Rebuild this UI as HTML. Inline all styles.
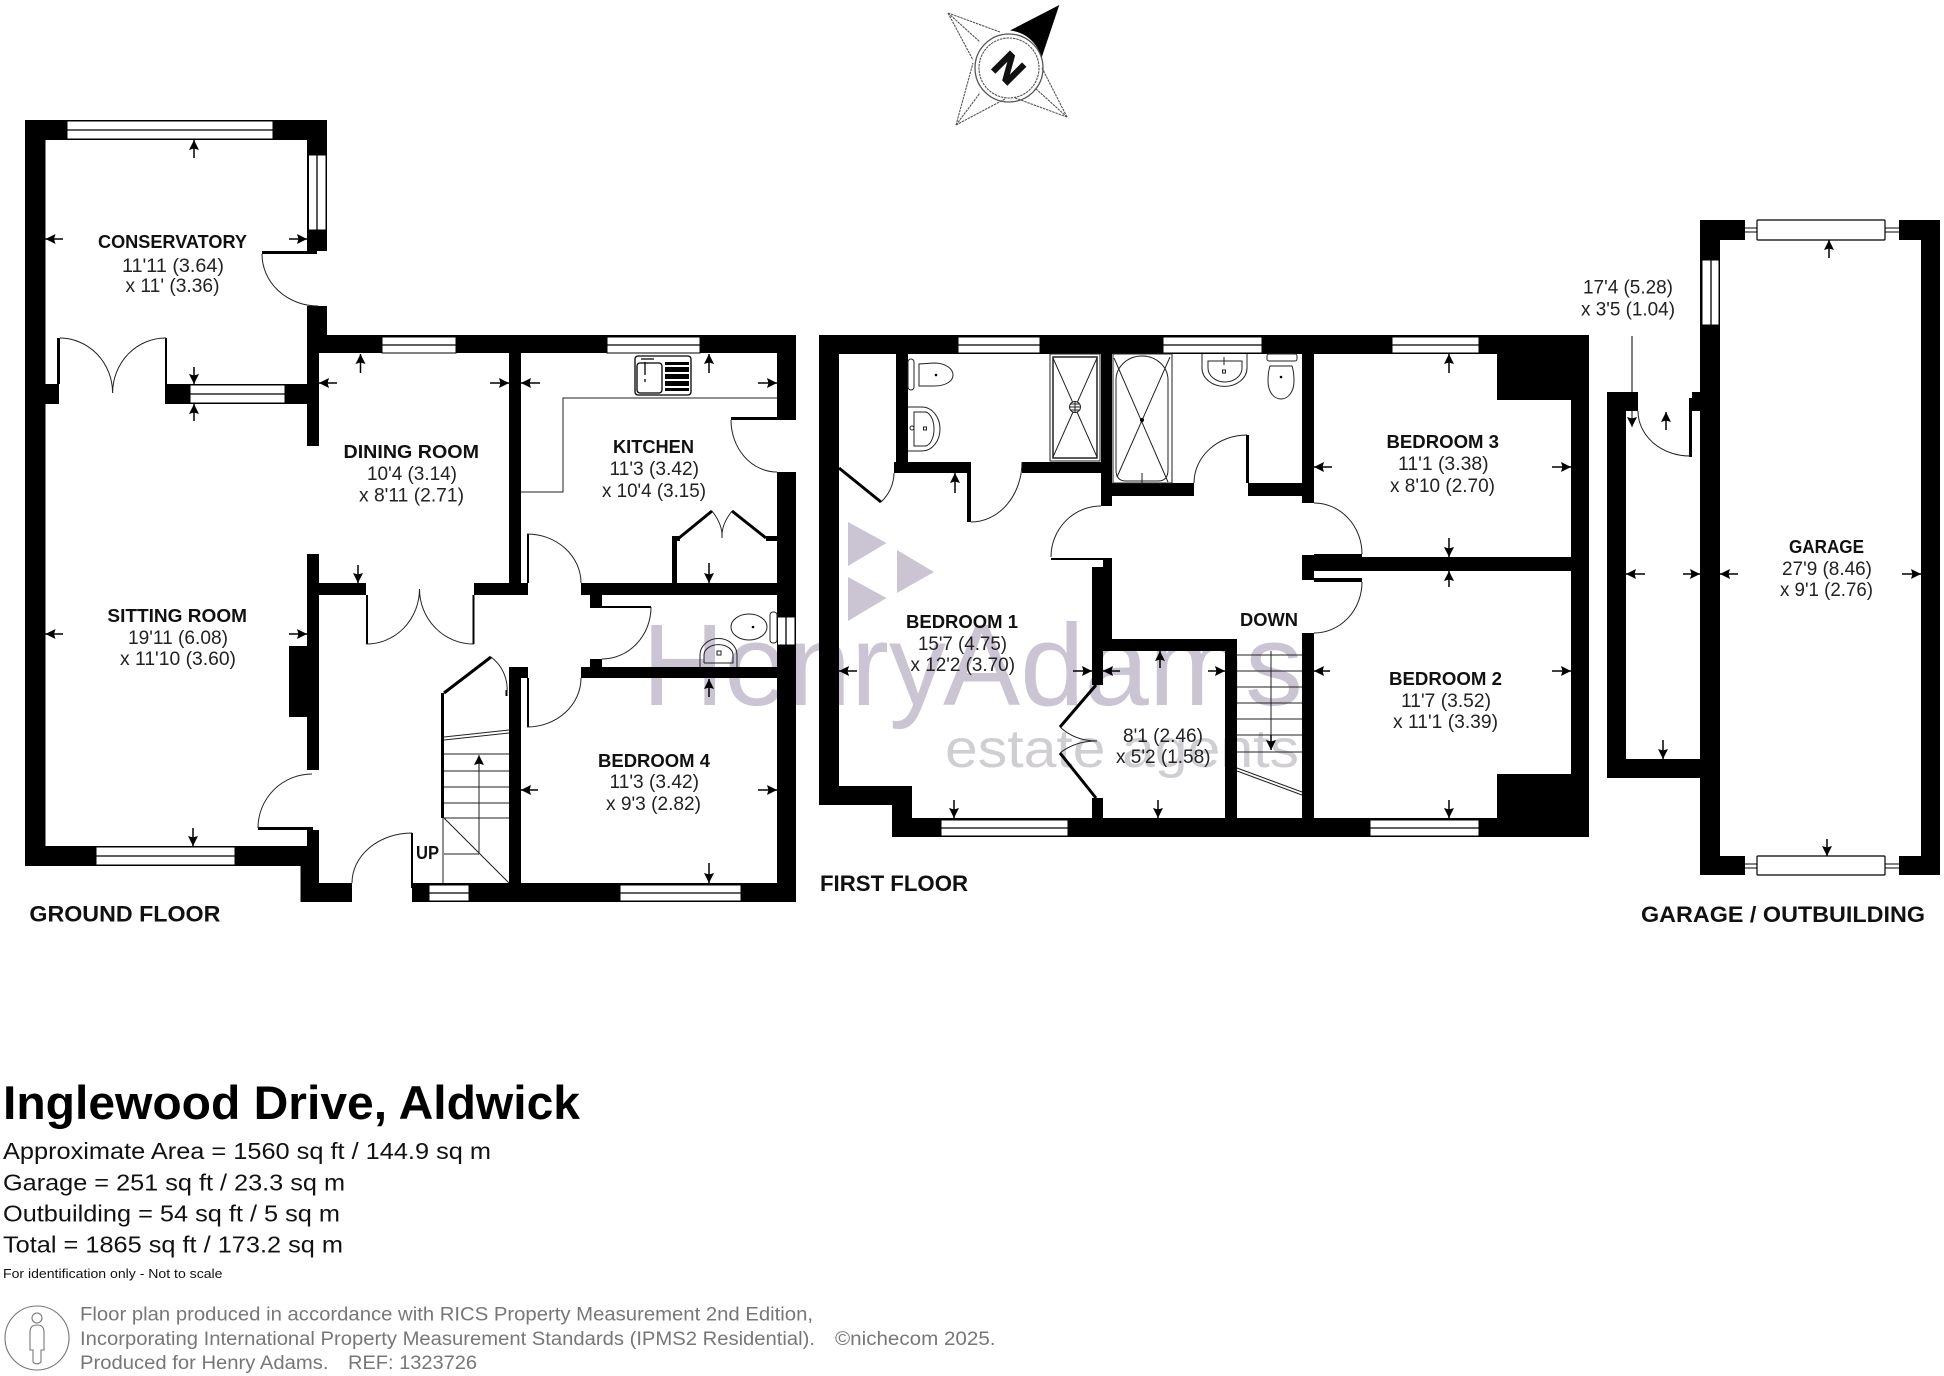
<!DOCTYPE html>
<html><head><meta charset="utf-8"><title>Inglewood Drive, Aldwick floor plan</title>
<style>
html,body{margin:0;padding:0;background:#fff}
svg{display:block}
text{font-family:"Liberation Sans",sans-serif;fill:#222;font-size:19px}
.b{font-weight:bold;font-size:18.5px;fill:#111}
.h{font-weight:bold;font-size:22px;fill:#111}
.t{font-size:23px;fill:#111}
.g{font-size:19px;fill:#777}
.w rect{fill:#fff;stroke:#000;stroke-width:1}
.w path{stroke:#000;stroke-width:1.3;fill:none}
.d{fill:none;stroke:#222;stroke-width:1}
.f{fill:none;stroke:#222;stroke-width:1}
.ar{fill:none;stroke:#000;stroke-width:1.500;marker-end:url(#a)}
.c{fill:none;stroke:#555;stroke-width:1.1;stroke-dasharray:2.5 .8}
</style></head><body>
<svg xmlns="http://www.w3.org/2000/svg" width="1944" height="1376" viewBox="0 0 1944 1376">
<defs><marker id="a" markerUnits="userSpaceOnUse" markerWidth="12" markerHeight="12" refX="10" refY="5.500" orient="auto"><path d="M0 .5L10 5.500L0 10.500L1.500 5.500Z" fill="#000"/></marker></defs>
<rect width="1944" height="1376" fill="#fff"/>

<!-- watermark -->
<g fill="#cbc4d3">
<path d="M848 522L886.5 543L848 566Z"/><path d="M897 550L934 572L897 593Z"/><path d="M848 577L886.5 598L848 621Z"/>
</g>
<text x="642" y="705" textLength="304" lengthAdjust="spacingAndGlyphs" style="font-size:116px;fill:#cbc4d3">Henry</text>
<text x="943" y="705" textLength="360" lengthAdjust="spacingAndGlyphs" style="font-size:116px;fill:#cbc4d3">Adams</text>
<text x="945" y="767" textLength="354" lengthAdjust="spacingAndGlyphs" style="font-size:54px;fill:#d0ced3">estate agents</text>

<!-- compass -->
<g>
<path d="M1059.3 5L1010 30.500A36 36 0 0 1 1041.500 58Z" fill="#000"/>
<path class="c" d="M948 13L1000 32M948 13L973 60M948 13L980 42M956 125L973 63M956 125L1005 99M956 125L980 93M1067 117L1042 68M1067 117L1015 98M1067 117L1035 88"/>
<circle cx="1009" cy="68" r="34" fill="none" stroke="#555" stroke-width="1.3"/>
<circle cx="1009" cy="68" r="30" fill="none" stroke="#555" stroke-width="1.1" stroke-dasharray="2.5 .8"/>
<text transform="translate(1009 68) rotate(45)" x="-13.500" y="13" style="font-size:37px;font-weight:bold;fill:#111;stroke:#111;stroke-width:1.500">N</text>
</g>

<!-- GROUND FLOOR walls -->
<g fill="#000">
<rect x="25" y="120" width="302" height="20"/>
<rect x="25" y="120" width="20.500" height="746"/>
<rect x="307" y="140" width="20" height="111"/>
<rect x="262" y="251" width="55" height="3"/>
<rect x="307" y="306" width="20" height="29"/>
<rect x="307" y="335" width="12" height="111"/>
<rect x="307" y="335" width="489" height="18"/>
<rect x="777" y="335" width="19" height="82"/>
<rect x="731" y="417" width="65" height="3"/>
<rect x="777" y="472" width="19" height="430"/>
<rect x="509" y="353" width="12" height="242"/>
<rect x="474" y="583" width="54" height="12"/>
<rect x="319" y="583" width="47" height="12"/>
<rect x="307" y="554" width="12" height="216"/>
<rect x="289" y="646" width="18" height="71"/>
<rect x="366" y="595" width="2" height="49"/>
<rect x="472.500" y="595" width="2" height="49"/>
<rect x="45" y="384" width="14" height="20"/>
<rect x="57" y="338" width="3" height="46"/>
<rect x="165" y="338" width="2" height="46"/>
<rect x="165" y="384" width="154" height="20"/>
<rect x="581" y="583" width="215" height="12"/>
<rect x="590" y="595" width="12" height="12"/>
<rect x="590" y="606" width="61" height="2"/>
<rect x="590" y="659" width="12" height="8"/>
<rect x="581" y="667" width="215" height="11"/>
<rect x="527" y="534" width="2" height="49"/>
<rect x="509" y="667" width="19" height="11"/>
<rect x="509" y="678" width="12" height="205"/>
<rect x="527" y="678" width="2" height="49"/>
<rect x="25" y="846" width="282" height="20"/>
<rect x="300.500" y="846" width="18.500" height="56"/>
<rect x="307" y="830" width="12" height="16"/>
<rect x="258" y="827" width="55" height="3"/>
<rect x="300.500" y="883" width="51.500" height="19"/>
<rect x="412" y="883" width="384" height="19"/>
<rect x="411" y="833" width="2" height="55"/>
<rect x="441" y="693" width="3" height="125"/>
<rect x="505.500" y="690" width="2" height="6"/>
<rect x="672" y="536" width="5" height="48"/>
<rect x="672" y="536" width="8" height="5"/>
<rect x="766" y="536" width="11" height="5"/>
</g>
<path d="M444 693L491 657" stroke="#000" stroke-width="3" fill="none"/>
<path d="M679 538L712 511M732 511L766 538" stroke="#000" stroke-width="3" fill="none"/>

<!-- ground windows -->
<g class="w">
<rect x="67" y="121" width="206" height="18"/><path d="M67 130H273"/>
<rect x="308.500" y="155" width="17.500" height="75"/><path d="M317 155V230"/>
<rect x="190" y="385" width="95" height="18"/><path d="M190 394H285"/>
<rect x="382" y="337" width="74" height="16"/><path d="M382 345H456"/>
<rect x="607" y="337" width="93" height="16"/><path d="M607 345H700"/>
<rect x="96" y="847" width="139" height="18"/><path d="M96 856H235"/>
<rect x="429" y="885" width="40" height="16"/><path d="M429 893H469"/>
<rect x="620" y="885" width="121" height="16"/><path d="M620 893H741"/>
<rect x="777.500" y="617" width="17.500" height="28"/><path d="M786 617V645"/>
</g>

<!-- ground door arcs & lines -->
<g class="d">
<path d="M262 254A56 52 0 0 0 318 306"/>
<path d="M60 338A53 55 0 0 1 112.600 393"/>
<path d="M166 338A53 55 0 0 0 112.600 393"/>
<path d="M731 420A46 52 0 0 0 777 472"/>
<path d="M366 644A53 55 0 0 0 419.500 589"/>
<path d="M474 644A54 55 0 0 1 419.500 589"/>
<path d="M527 534A54 49 0 0 1 581 583"/>
<path d="M651 607A49 52 0 0 1 602 659"/>
<path d="M581 678A54 49 0 0 1 527 727"/>
<path d="M491 657A40 40 0 0 1 507 693"/>
<path d="M258 828A54 54 0 0 1 312 774"/>
<path d="M352 883A60 50 0 0 1 412 833"/>
<path d="M712 511Q723 525 722 538M732 511Q721 525 722 538"/>
<!-- counter -->
<path d="M777 398H563V492H521"/>
<!-- stairs -->
<path d="M444 737L509 730M444 740L509 733"/>
<path d="M444 754H509M444 771H509M444 787H509M444 803H509M444 818H509"/>
<path d="M479 854V760M444 854H479M444 818L509 883M443 818V883"/>
</g>
<path d="M479 770V755" stroke="#000" stroke-width="1" marker-end="url(#a)" fill="none"/>

<!-- sink -->
<g fill="none" stroke="#000" stroke-width="1.3">
<rect x="635" y="356" width="56" height="39" rx="3" fill="#fff"/>
<rect x="637" y="363" width="25" height="30" rx="3"/>
<path d="M645 362V375M641 359H654M645 379V382" />
</g>
<g fill="#000"><rect x="665" y="362" width="24" height="3"/><rect x="665" y="367" width="24" height="5"/><rect x="665" y="374" width="24" height="5"/><rect x="665" y="381" width="24" height="5"/><rect x="665" y="388" width="24" height="3"/></g>

<!-- ground WC -->
<g class="f">
<ellipse cx="749" cy="627" rx="18" ry="13"/>
<rect x="770" y="612" width="7" height="31" rx="3"/>
<path d="M700 667V655A18 16 0 0 1 737 655V667M704 663V655A14 10 0 0 1 733 655V663H704"/>
<rect x="717" y="651" width="4" height="4"/>
</g>
<circle cx="753" cy="627" r="1.300"/>

<!-- FIRST FLOOR walls -->
<g fill="#000">
<rect x="819" y="335" width="770" height="19"/>
<rect x="819" y="335" width="20" height="470"/>
<rect x="819" y="786" width="93" height="19"/>
<rect x="892" y="786" width="20" height="51"/>
<rect x="892" y="818" width="697" height="19"/>
<rect x="1571" y="335" width="18" height="502"/>
<rect x="1497" y="354" width="74" height="46"/>
<rect x="1497" y="774" width="74" height="44"/>
<rect x="896" y="354" width="12" height="119"/>
<rect x="894" y="462" width="75" height="11"/>
<rect x="967" y="462" width="4" height="60"/>
<rect x="1022" y="462" width="90" height="11"/>
<rect x="1101" y="354" width="11" height="152"/>
<rect x="1112" y="483" width="82" height="13"/>
<rect x="1246" y="435" width="3" height="48"/>
<rect x="1248" y="483" width="66" height="13"/>
<rect x="1302" y="354" width="12" height="149"/>
<rect x="1051" y="558" width="61" height="2"/>
<rect x="1103" y="558" width="9" height="12"/>
<rect x="1092" y="567" width="11" height="118"/>
<rect x="1103" y="567" width="9" height="72"/>
<rect x="1092" y="639" width="145" height="12"/>
<rect x="1225" y="639" width="12" height="179"/>
<rect x="1302" y="633" width="12" height="185"/>
<rect x="1302" y="555" width="12" height="25"/>
<rect x="1314" y="554" width="48" height="3"/>
<rect x="1314" y="557" width="257" height="14"/>
<rect x="1314" y="578" width="48" height="4"/>
<rect x="1092" y="798" width="11" height="20"/>
</g>
<path d="M839 468L881 502M1096 685L1060 727M1060 753L1096 798" stroke="#000" stroke-width="3" fill="none"/>
<g class="w">
<rect x="958" y="337" width="82" height="16"/><path d="M958 345H1040"/>
<rect x="1163" y="337" width="99" height="16"/><path d="M1163 345H1262"/>
<rect x="1392" y="337" width="87" height="16"/><path d="M1392 345H1479"/>
<rect x="941" y="820" width="127" height="16"/><path d="M941 828H1068"/>
<rect x="1370" y="820" width="109" height="16"/><path d="M1370 828H1479"/>
</g>
<g class="d">
<path d="M971 522A51 60 0 0 0 1022 462"/>
<path d="M881 502A40 40 0 0 0 894 473"/>
<path d="M1247 435A53 48 0 0 0 1194 483"/>
<path d="M1101 506A50 51 0 0 0 1051 557"/>
<path d="M1314 503A48 51 0 0 1 1362 554"/>
<path d="M1362 582A48 51 0 0 1 1314 633"/>
<path d="M1060 727Q1075 741 1097 741M1060 753Q1075 741 1097 741"/>
<!-- stair -->
<path d="M1237 655H1302M1237 671H1302M1237 687H1302M1237 703H1302M1237 719H1302M1237 735H1302M1237 752H1302"/>
<path d="M1271 651V750"/>
<path d="M1237 768L1302 792M1237 771L1302 795"/>
<!-- shower -->
<rect x="1050" y="354" width="50" height="107"/>
<rect x="1053" y="357" width="44" height="101" stroke-width="1.500"/>
<path d="M1053 358L1097 457M1097 358L1053 457"/>
<circle cx="1075" cy="407" r="5.500" fill="#fff"/>
<path d="M1069 407H1081M1075 401V413M1071 404H1079M1071 410H1079"/>
<!-- bath -->
<rect x="1113" y="354" width="59" height="129"/>
<path d="M1116 380A26 24 0 0 1 1168 380V470Q1168 481 1158 481H1126Q1116 481 1116 470Z"/>
<path d="M1114 358L1168 482M1170 357L1117 477"/>
<path d="M1142 473V483"/>
<!-- en-suite toilet & basin -->
<rect x="908" y="359" width="6" height="31" rx="3"/>
<path d="M919 364V386H934C946 386 953 381 953 375C953 369 946 363 934 363Z"/>
<path d="M908 407H922A18 22 0 0 1 940 429A18 22 0 0 1 922 451H908"/>
<path d="M914 412H926A10 17 0 0 1 934 429A10 17 0 0 1 926 446H914Z"/>
<rect x="923.500" y="427" width="3" height="3"/>
<circle cx="912" cy="428" r="2"/>
<!-- bathroom basin, toilet -->
<path d="M1202 354V368A22 18 0 0 0 1247 368V354"/>
<path d="M1208 361H1242V368A17 14 0 0 1 1208 368Z"/>
<rect x="1222.500" y="370" width="3" height="3"/>
<path d="M1224 357V365"/>
<rect x="1267" y="354" width="30" height="7" rx="2"/>
<path d="M1270 366H1292Q1294 372 1294 381C1294 392 1288 399 1281 399C1274 399 1268 392 1268 381Q1268 372 1270 366Z"/>
</g>
<circle cx="1142" cy="420" r="2"/><circle cx="936" cy="375" r="1.300"/><circle cx="1281" cy="377" r="1.300"/>

<!-- GARAGE / OUTBUILDING -->
<g fill="#000">
<rect x="1700" y="220" width="20" height="655"/>
<rect x="1700" y="220" width="45" height="20"/>
<rect x="1899" y="220" width="41" height="20"/>
<rect x="1921" y="220" width="19" height="655"/>
<rect x="1700" y="856" width="45" height="19"/>
<rect x="1899" y="856" width="41" height="19"/>
<rect x="1607" y="392" width="31" height="19"/>
<rect x="1607" y="392" width="19" height="386"/>
<rect x="1607" y="759" width="95" height="19"/>
<rect x="1692" y="392" width="8" height="19"/>
<rect x="1689" y="398" width="3" height="59"/>
</g>
<g class="w">
<rect x="1702" y="260" width="17" height="65"/><path d="M1711 260V325"/>
</g>
<path d="M1745 228H1899M1745 232H1899M1745 864H1899M1745 868H1899" stroke="#000" stroke-width="1" fill="none"/>
<rect x="1757" y="220" width="128" height="20" fill="#fff" stroke="#000" stroke-width="1.200" rx="1"/>
<rect x="1757" y="856" width="128" height="19" fill="#fff" stroke="#000" stroke-width="1.200" rx="1"/>
<path class="d" d="M1638 411A52 45 0 0 0 1690 456"/>
<path d="M1632 336V427" stroke="#000" stroke-width="1" fill="none" marker-end="url(#a)"/>

<!-- arrows -->
<g>
<path class="ar" d="M194 158V140"/><path class="ar" d="M63 239H45.500"/><path class="ar" d="M289 239H307"/>
<path class="ar" d="M194 367V384"/><path class="ar" d="M194 421V404"/>
<path class="ar" d="M360.500 373V354"/><path class="ar" d="M337 383H319"/><path class="ar" d="M490 383H509"/>
<path class="ar" d="M540 383H521"/><path class="ar" d="M758 383H777"/><path class="ar" d="M709 373V354"/>
<path class="ar" d="M358 565V583"/><path class="ar" d="M709 563V583"/>
<path class="ar" d="M63 634H45.500"/><path class="ar" d="M289 634H307"/><path class="ar" d="M193 828V846"/>
<path class="ar" d="M709 697V679"/><path class="ar" d="M538 790H521"/><path class="ar" d="M758 790H777"/><path class="ar" d="M709 863V883"/>
<path class="ar" d="M955 493V473"/><path class="ar" d="M1449 373V354"/><path class="ar" d="M1332 467H1314"/><path class="ar" d="M1552 467H1571"/>
<path class="ar" d="M1449 538V557"/><path class="ar" d="M1449 587V571"/>
<path class="ar" d="M857 671H839"/><path class="ar" d="M1073 671H1092"/><path class="ar" d="M1120 671H1103"/><path class="ar" d="M1208 671H1225"/>
<path class="ar" d="M1160 668V651"/><path class="ar" d="M1158 800V818"/><path class="ar" d="M954 800V818"/>
<path class="ar" d="M1330 671H1314"/><path class="ar" d="M1552 671H1571"/><path class="ar" d="M1449 800V818"/>
<path class="ar" d="M1271 735V750"/>
<path class="ar" d="M1829 258V240"/><path class="ar" d="M1827 839V856"/><path class="ar" d="M1738 574H1720"/><path class="ar" d="M1902 574H1921"/>
<path class="ar" d="M1645 574H1626"/><path class="ar" d="M1683 574H1700"/><path class="ar" d="M1666 430V412"/><path class="ar" d="M1663 740V759"/>
</g>

<!-- labels -->
<text class="b" x="98" y="248" textLength="149" lengthAdjust="spacingAndGlyphs">CONSERVATORY</text>
<text x="122" y="272" textLength="102" lengthAdjust="spacingAndGlyphs">11'11 (3.64)</text>
<text x="125.500" y="292" textLength="94" lengthAdjust="spacingAndGlyphs">x 11' (3.36)</text>
<text class="b" x="343.500" y="458" textLength="135.500" lengthAdjust="spacingAndGlyphs">DINING ROOM</text>
<text x="367" y="480" textLength="90" lengthAdjust="spacingAndGlyphs">10'4 (3.14)</text>
<text x="359" y="501.500" textLength="105" lengthAdjust="spacingAndGlyphs">x 8'11 (2.71)</text>
<text class="b" x="613" y="453" textLength="81" lengthAdjust="spacingAndGlyphs">KITCHEN</text>
<text x="609.500" y="475" textLength="89.500" lengthAdjust="spacingAndGlyphs">11'3 (3.42)</text>
<text x="602" y="497" textLength="104" lengthAdjust="spacingAndGlyphs">x 10'4 (3.15)</text>
<text class="b" x="107.400" y="622" textLength="139.600" lengthAdjust="spacingAndGlyphs">SITTING ROOM</text>
<text x="128" y="644" textLength="100" lengthAdjust="spacingAndGlyphs">19'11 (6.08)</text>
<text x="120" y="665" textLength="116" lengthAdjust="spacingAndGlyphs">x 11'10 (3.60)</text>
<text class="b" x="598" y="767" textLength="112" lengthAdjust="spacingAndGlyphs">BEDROOM 4</text>
<text x="609.500" y="788" textLength="89.500" lengthAdjust="spacingAndGlyphs">11'3 (3.42)</text>
<text x="606" y="810" textLength="95" lengthAdjust="spacingAndGlyphs">x 9'3 (2.82)</text>
<text class="b" x="416" y="859" textLength="23" lengthAdjust="spacingAndGlyphs">UP</text>
<text class="h" x="29.400" y="921.700" textLength="191" lengthAdjust="spacingAndGlyphs">GROUND FLOOR</text>

<text class="b" x="1386.500" y="448" textLength="112.500" lengthAdjust="spacingAndGlyphs">BEDROOM 3</text>
<text x="1398" y="470" textLength="90.600" lengthAdjust="spacingAndGlyphs">11'1 (3.38)</text>
<text x="1390" y="492" textLength="105" lengthAdjust="spacingAndGlyphs">x 8'10 (2.70)</text>
<text class="b" x="906" y="628" textLength="112" lengthAdjust="spacingAndGlyphs">BEDROOM 1</text>
<text x="918" y="650" textLength="89" lengthAdjust="spacingAndGlyphs">15'7 (4.75)</text>
<text x="910.500" y="671" textLength="104.500" lengthAdjust="spacingAndGlyphs">x 12'2 (3.70)</text>
<text class="b" x="1389" y="685" textLength="113" lengthAdjust="spacingAndGlyphs">BEDROOM 2</text>
<text x="1401" y="707" textLength="90" lengthAdjust="spacingAndGlyphs">11'7 (3.52)</text>
<text x="1393" y="728" textLength="105" lengthAdjust="spacingAndGlyphs">x 11'1 (3.39)</text>
<text class="b" x="1240" y="626" textLength="58" lengthAdjust="spacingAndGlyphs">DOWN</text>
<text x="1123" y="742" textLength="80" lengthAdjust="spacingAndGlyphs">8'1 (2.46)</text>
<text x="1116" y="763" textLength="94.500" lengthAdjust="spacingAndGlyphs">x 5'2 (1.58)</text>
<text class="h" x="820" y="891" textLength="148" lengthAdjust="spacingAndGlyphs">FIRST FLOOR</text>

<text class="b" x="1789" y="553" textLength="75" lengthAdjust="spacingAndGlyphs">GARAGE</text>
<text x="1782" y="575" textLength="90" lengthAdjust="spacingAndGlyphs">27'9 (8.46)</text>
<text x="1780" y="596" textLength="93" lengthAdjust="spacingAndGlyphs">x 9'1 (2.76)</text>
<text x="1583" y="293.400" textLength="90" lengthAdjust="spacingAndGlyphs">17'4 (5.28)</text>
<text x="1581" y="315.600" textLength="94" lengthAdjust="spacingAndGlyphs">x 3'5 (1.04)</text>
<text class="h" x="1641" y="922" textLength="284" lengthAdjust="spacingAndGlyphs">GARAGE / OUTBUILDING</text>

<!-- footer -->
<text x="3" y="1119" textLength="577" lengthAdjust="spacingAndGlyphs" style="font-size:47px;font-weight:bold;fill:#000">Inglewood Drive, Aldwick</text>
<text class="t" x="3" y="1159" textLength="488" lengthAdjust="spacingAndGlyphs">Approximate Area = 1560 sq ft / 144.9 sq m</text>
<text class="t" x="3" y="1190.700" textLength="342" lengthAdjust="spacingAndGlyphs">Garage = 251 sq ft / 23.3 sq m</text>
<text class="t" x="3" y="1221.700" textLength="337" lengthAdjust="spacingAndGlyphs">Outbuilding = 54 sq ft / 5 sq m</text>
<text class="t" x="3" y="1252.700" textLength="340" lengthAdjust="spacingAndGlyphs">Total = 1865 sq ft / 173.2 sq m</text>
<text x="3" y="1278" textLength="219.500" lengthAdjust="spacingAndGlyphs" style="font-size:12.500px;fill:#111">For identification only - Not to scale</text>
<text class="g" x="80" y="1320.700" textLength="733" lengthAdjust="spacingAndGlyphs">Floor plan produced in accordance with RICS Property Measurement 2nd Edition,</text>
<text class="g" x="80" y="1345" textLength="735" lengthAdjust="spacingAndGlyphs">Incorporating International Property Measurement Standards (IPMS2 Residential).</text>
<text class="g" x="835" y="1345" textLength="160.500" lengthAdjust="spacingAndGlyphs">©nichecom 2025.</text>
<text class="g" x="80" y="1369" textLength="248.500" lengthAdjust="spacingAndGlyphs">Produced for Henry Adams.</text>
<text class="g" x="348" y="1369" textLength="129" lengthAdjust="spacingAndGlyphs">REF: 1323726</text>
<g fill="none" stroke="#777" stroke-width="1.100">
<circle cx="37" cy="1338" r="32"/>
<circle cx="37" cy="1318" r="5"/>
<path d="M30 1332Q30 1325 37 1325Q44 1325 44 1332V1350H41V1362Q37 1366 33 1362V1350H30Z"/>
</g>
</svg>
</body></html>
